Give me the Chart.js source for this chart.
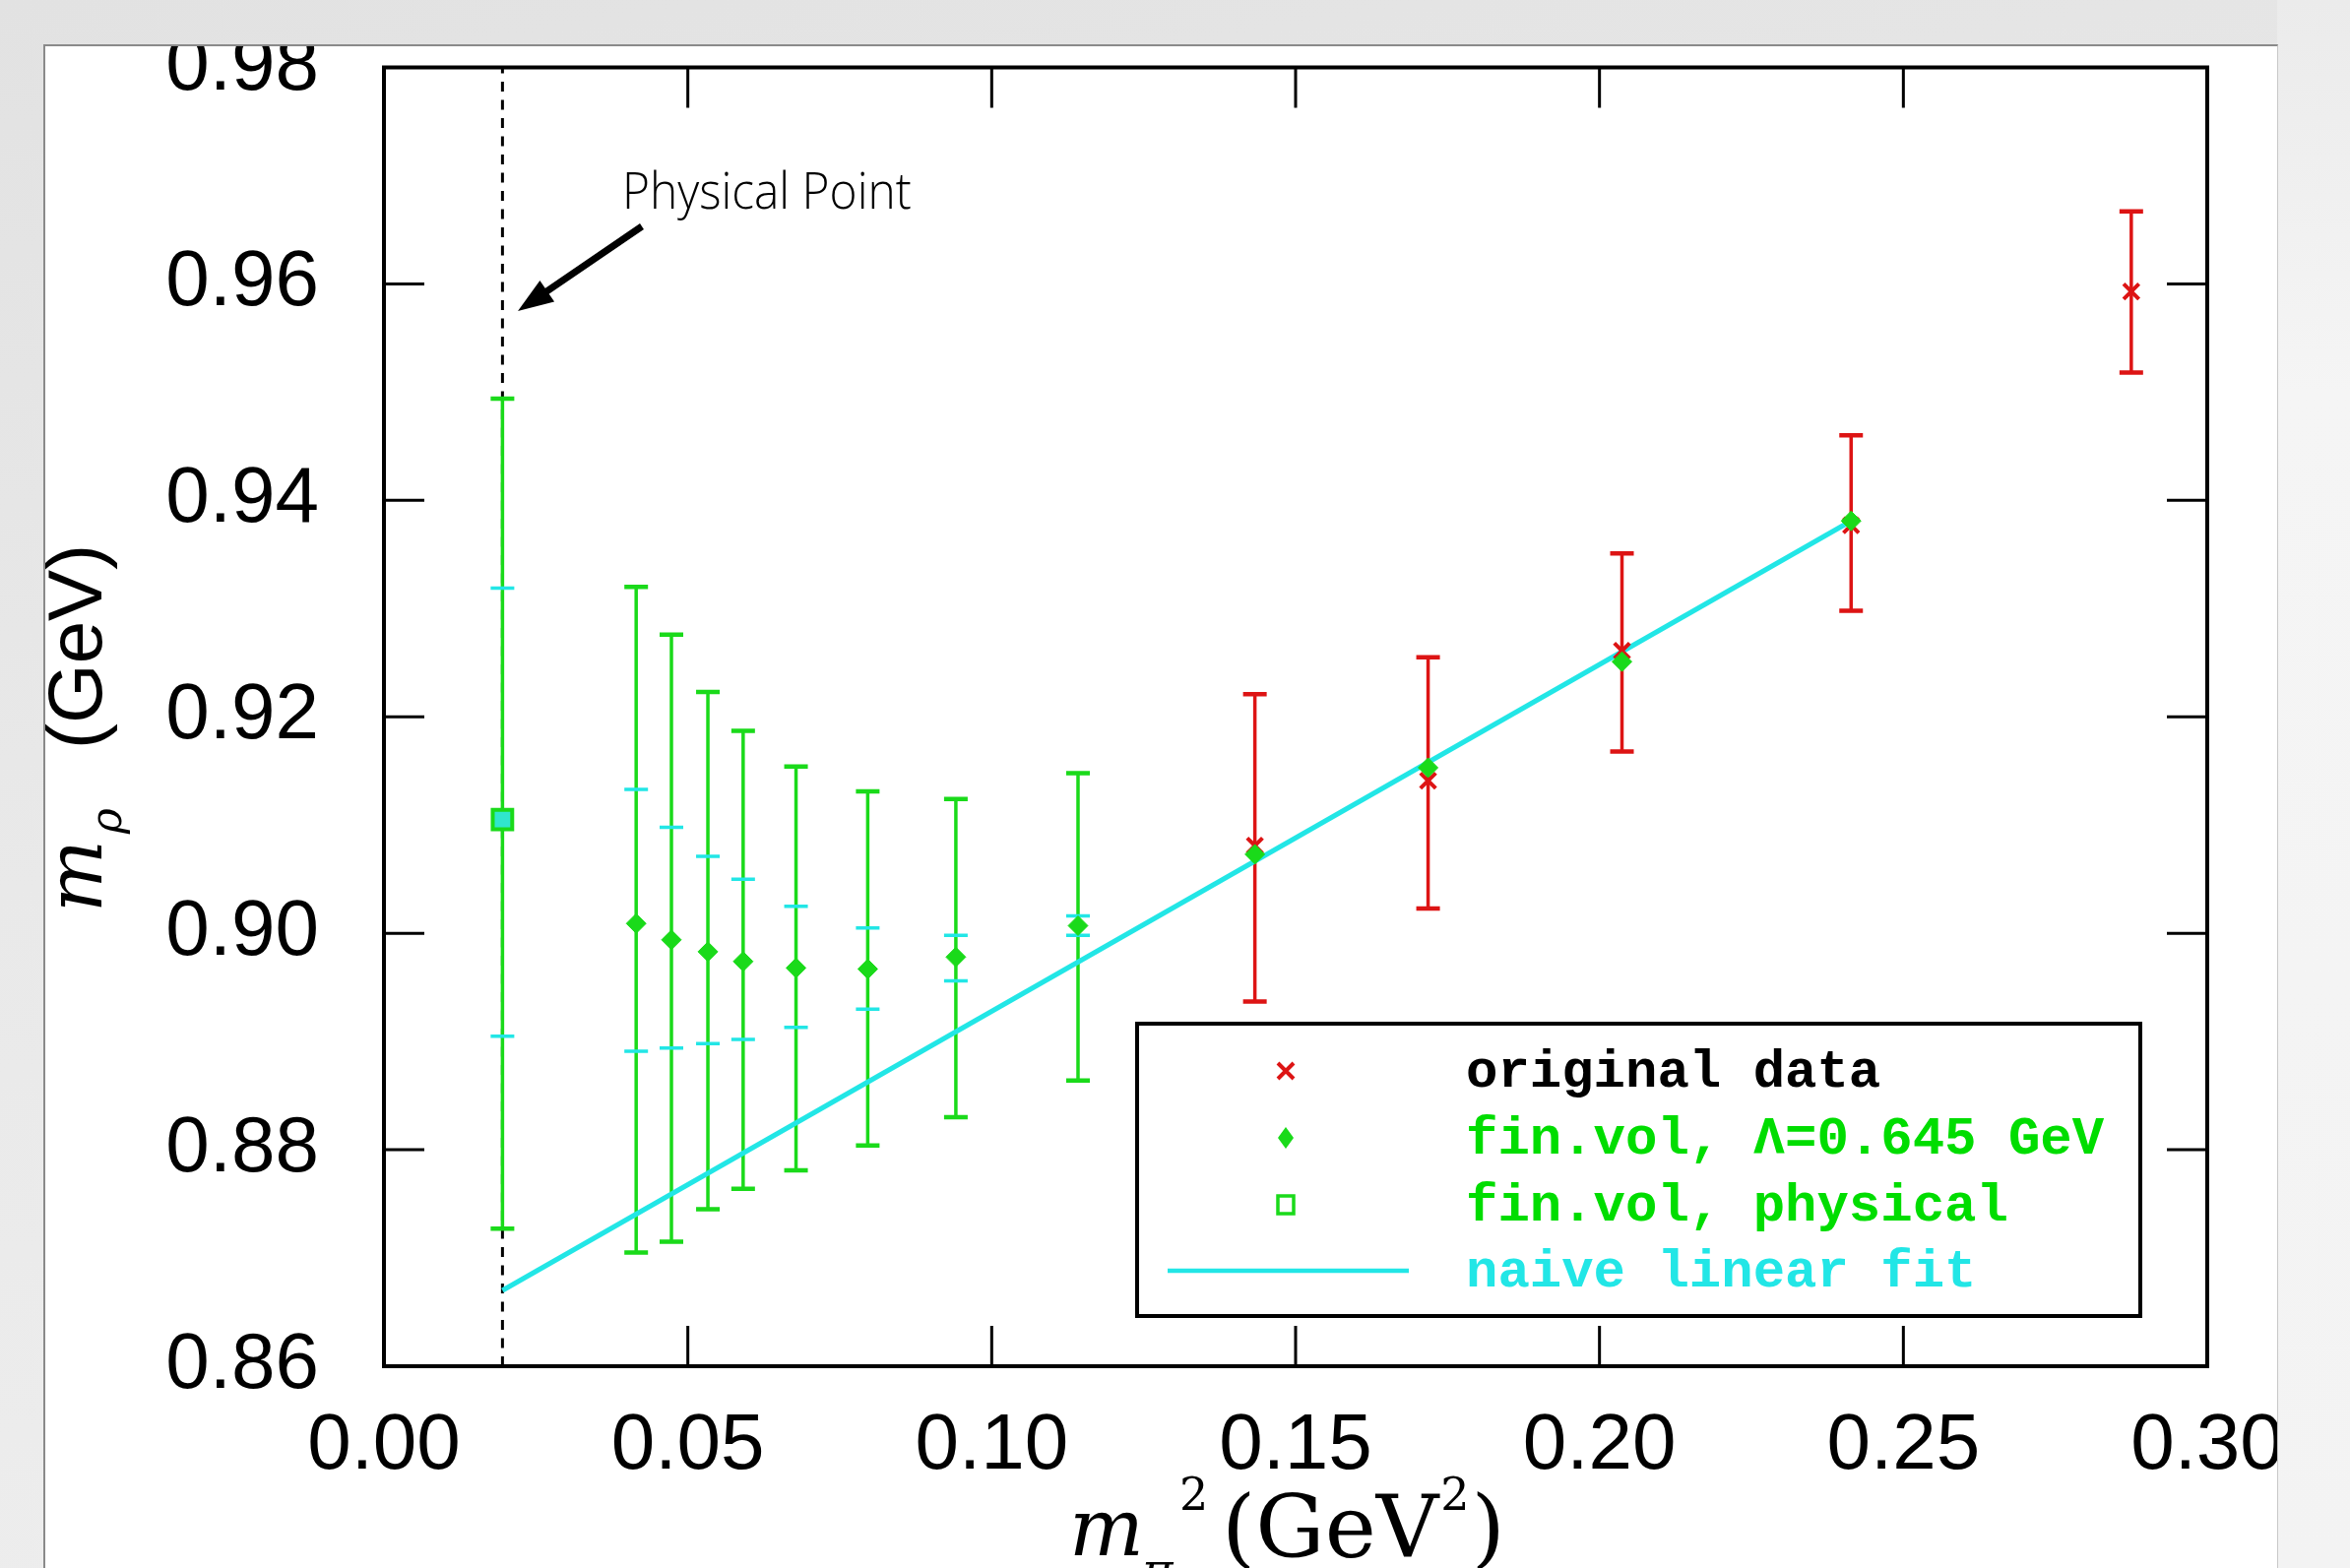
<!DOCTYPE html>
<html><head><meta charset="utf-8">
<script src="https://cdn.jsdelivr.net/npm/chart.js@4.4.1/dist/chart.umd.min.js"></script>
<style>
html,body{margin:0;padding:0;width:2387px;height:1593px;overflow:hidden;}
body{background:linear-gradient(170deg,#e2e2e2 0%,#e9e9e9 45%,#efefef 100%);position:relative;}
#shine{position:absolute;left:2313px;top:0;width:74px;height:1593px;background:linear-gradient(180deg,#ebebeb 0%,#f5f5f5 25%,#f3f3f3 100%);}
#card{position:absolute;left:44px;top:45px;width:2270px;height:1560px;background:#fff;overflow:hidden;box-sizing:border-box;border-top:2px solid #8a8a8a;border-left:2px solid #8a8a8a;border-right:1px solid #c8c8c8;}
#c{position:absolute;left:-46px;top:-47px;}
</style></head>
<body><div id="shine"></div><div id="card"><canvas id="c" width="2387" height="1593"></canvas></div>
<script>
// ---------- data ----------
const X_TICKS = [0.00, 0.05, 0.10, 0.15, 0.20, 0.25, 0.30];
const Y_TICKS = [0.86, 0.88, 0.90, 0.92, 0.94, 0.96, 0.98];

// physical point (fin.vol, physical)
const physX = [0.0195];
const physY = [0.9105];
const physHi = [0.9494];
const physLo = [0.8727];
const physStatHi = [0.9319];
const physStatLo = [0.8905];

// fin.vol, Lambda = 0.645 GeV
const finX = [0.0415, 0.0473, 0.0533, 0.0591, 0.0678, 0.0796, 0.0941, 0.1142, 0.1433, 0.1718, 0.2037, 0.2414];
const finY = [0.9009, 0.8994, 0.8983, 0.8974, 0.8968, 0.8967, 0.8978, 0.9007, 0.9073, 0.9153, 0.9251, 0.9381];
const finHi = [0.9320, 0.9276, 0.9223, 0.9187, 0.9154, 0.9131, 0.9124, 0.9148, null, null, null, null];
const finLo = [0.8705, 0.8715, 0.8745, 0.8764, 0.8781, 0.8804, 0.8830, 0.8864, null, null, null, null];
const finStatHi = [0.9133, 0.9098, 0.9071, 0.9050, 0.9025, 0.9005, 0.8998, 0.9016, null, null, null, null];
const finStatLo = [0.8891, 0.8894, 0.8898, 0.8902, 0.8913, 0.8930, 0.8956, 0.8998, null, null, null, null];

// original data
const origX = [0.1433, 0.1718, 0.2037, 0.2414, 0.2875];
const origY = [0.9081, 0.9141, 0.9261, 0.9377, 0.9593];
const origHi = [0.9221, 0.9255, 0.9351, 0.9460, 0.9667];
const origLo = [0.8937, 0.9023, 0.9168, 0.9298, 0.9518];

// naive linear fit
const fitX = [0.0195, 0.2414];
const fitY = [0.8670, 0.9381];

// physical point vertical marker
const markX = [0.0195, 0.0195];
const markY = [0.86, 0.98];

const LEGEND_LABELS = ['original data', 'fin.vol, \u039B=0.645 GeV', 'fin.vol, physical', 'naive linear fit'];

// ---------- colours ----------
const RED = '#dd1414';
const GREEN = '#1ada1a';
const GREEN_TXT = '#00dd00';
const CYAN = '#22e6e6';

const pts = (X, Y) => X.map((x, i) => ({x, y: Y[i]}));

function drawBars(ctx, xs, ys, X, lo, hi, color, capHalf, lw, capW, withLine) {
  ctx.save();
  ctx.strokeStyle = color;
  ctx.lineCap = 'butt';
  X.forEach((xv, i) => {
    if (lo[i] == null) return;
    const px = xs.getPixelForValue(xv);
    const yl = ys.getPixelForValue(lo[i]);
    const yh = ys.getPixelForValue(hi[i]);
    if (withLine) {
      ctx.lineWidth = lw;
      ctx.beginPath(); ctx.moveTo(px, yl); ctx.lineTo(px, yh); ctx.stroke();
    }
    ctx.lineWidth = capW;
    ctx.beginPath();
    ctx.moveTo(px - capHalf, yl); ctx.lineTo(px + capHalf, yl);
    ctx.moveTo(px - capHalf, yh); ctx.lineTo(px + capHalf, yh);
    ctx.stroke();
  });
  ctx.restore();
}

const errorBarPlugin = {
  id: 'errorBars',
  afterDatasetDraw(chart, args) {
    const ds = chart.data.datasets[args.index];
    if (ds.label !== 'physLine') return;
    const ctx = chart.ctx, xs = chart.scales.x, ys = chart.scales.y;
    drawBars(ctx, xs, ys, physX, physLo, physHi, GREEN, 12, 3.5, 4.5, true);
    drawBars(ctx, xs, ys, finX, finLo, finHi, GREEN, 12, 3.5, 4.5, true);
    drawBars(ctx, xs, ys, physX, physStatLo, physStatHi, CYAN, 12, 3.5, 3.5, false);
    drawBars(ctx, xs, ys, finX, finStatLo, finStatHi, CYAN, 12, 3.5, 3.5, false);
    drawBars(ctx, xs, ys, origX, origLo, origHi, RED, 12, 3.5, 4.5, true);
  }
};

const framePlugin = {
  id: 'frame',
  afterDatasetsDraw(chart) {
    const {ctx, chartArea: a, scales: {x, y}} = chart;
    ctx.save();
    ctx.strokeStyle = '#000';
    ctx.lineWidth = 3;
    const L = 41;
    X_TICKS.forEach(v => {
      if (v <= x.min || v >= x.max) return;
      const px = x.getPixelForValue(v);
      ctx.beginPath();
      ctx.moveTo(px, a.bottom); ctx.lineTo(px, a.bottom - L);
      ctx.moveTo(px, a.top); ctx.lineTo(px, a.top + L);
      ctx.stroke();
    });
    Y_TICKS.forEach(v => {
      if (v <= y.min || v >= y.max) return;
      const py = y.getPixelForValue(v);
      ctx.beginPath();
      ctx.moveTo(a.left, py); ctx.lineTo(a.left + L, py);
      ctx.moveTo(a.right, py); ctx.lineTo(a.right - L, py);
      ctx.stroke();
    });
    ctx.lineWidth = 4;
    ctx.strokeRect(a.left, a.top, a.right - a.left, a.bottom - a.top);
    ctx.restore();
  }
};

const decorPlugin = {
  id: 'decor',
  afterDraw(chart) {
    const ctx = chart.ctx;
    ctx.save();
    ctx.fillStyle = '#000';
    ctx.textAlign = 'left';
    ctx.textBaseline = 'alphabetic';

    // ---- "Physical Point" annotation ----
    ctx.save();
    ctx.translate(632, 212);
    ctx.scale(0.92, 1);
    ctx.font = '300 52px "Open Sans", "DejaVu Sans"';
    ctx.fillText('Physical Point', 0, 0);
    ctx.restore();
    // arrow
    const tx = 526, ty = 316, sx = 652, sy = 230;
    const ang = Math.atan2(ty - sy, tx - sx);
    ctx.strokeStyle = '#000';
    ctx.lineWidth = 7;
    ctx.beginPath(); ctx.moveTo(sx, sy);
    ctx.lineTo(tx - 26 * Math.cos(ang), ty - 26 * Math.sin(ang)); ctx.stroke();
    ctx.beginPath();
    ctx.moveTo(tx, ty);
    ctx.lineTo(tx - 36 * Math.cos(ang) + 13 * Math.sin(ang), ty - 36 * Math.sin(ang) - 13 * Math.cos(ang));
    ctx.lineTo(tx - 36 * Math.cos(ang) - 13 * Math.sin(ang), ty - 36 * Math.sin(ang) + 13 * Math.cos(ang));
    ctx.closePath(); ctx.fill();

    // ---- y axis title: m_rho (GeV) ----
    ctx.save();
    ctx.translate(103, 927);
    ctx.rotate(-Math.PI / 2);
    ctx.font = 'italic 78px "DejaVu Serif"';
    ctx.fillText('m', 0, 0);
    ctx.font = 'italic 44px "DejaVu Serif"';
    ctx.fillText('\u03C1', 80, 20);
    ctx.font = '78px "Liberation Sans"';
    ctx.fillText('(GeV)', 166, 0);
    ctx.restore();

    // ---- x axis title: m_pi^2 (GeV^2) ----
    ctx.font = 'italic 80px "DejaVu Serif"';
    ctx.fillText('m', 1086, 1580);
    ctx.font = 'italic 48px "DejaVu Serif"';
    ctx.fillText('\u03C0', 1160, 1612);
    ctx.font = '46px "DejaVu Serif"';
    ctx.fillText('2', 1198, 1534);
    ctx.font = '88px "DejaVu Serif"';
    ctx.fillText('(GeV', 1241, 1582);
    let w = ctx.measureText('(GeV').width;
    ctx.font = '46px "DejaVu Serif"';
    ctx.fillText('2', 1241 + w + 2, 1534);
    let w2 = ctx.measureText('2').width;
    ctx.font = '88px "DejaVu Serif"';
    ctx.fillText(')', 1241 + w + w2 + 4, 1582);

    // ---- legend ----
    const bx = 1155, by = 1040, bw = 1019, bh = 297;
    ctx.fillStyle = '#fff';
    ctx.fillRect(bx, by, bw, bh);
    ctx.strokeStyle = '#000';
    ctx.lineWidth = 4;
    ctx.strokeRect(bx, by, bw, bh);
    const rows = [1088, 1156, 1224, 1291];
    const sxm = 1306;
    // red cross
    ctx.strokeStyle = RED; ctx.lineWidth = 4;
    ctx.beginPath();
    ctx.moveTo(sxm - 8, rows[0] - 8); ctx.lineTo(sxm + 8, rows[0] + 8);
    ctx.moveTo(sxm + 8, rows[0] - 8); ctx.lineTo(sxm - 8, rows[0] + 8);
    ctx.stroke();
    // green diamond
    ctx.fillStyle = GREEN;
    ctx.beginPath();
    ctx.moveTo(sxm, rows[1] - 11); ctx.lineTo(sxm + 8, rows[1]);
    ctx.lineTo(sxm, rows[1] + 11); ctx.lineTo(sxm - 8, rows[1]);
    ctx.closePath(); ctx.fill();
    // open square
    ctx.strokeStyle = GREEN; ctx.lineWidth = 3.5;
    ctx.strokeRect(sxm - 8, rows[2] - 9, 16, 18);
    // cyan line
    ctx.strokeStyle = CYAN; ctx.lineWidth = 4.5;
    ctx.beginPath(); ctx.moveTo(1186, rows[3]); ctx.lineTo(1431, rows[3]); ctx.stroke();
    // texts
    ctx.font = 'bold 54px "Liberation Mono"';
    ctx.textBaseline = 'middle';
    const colors = ['#000', GREEN_TXT, GREEN_TXT, CYAN];
    LEGEND_LABELS.forEach((t, i) => {
      ctx.fillStyle = colors[i];
      ctx.fillText(t, 1489, rows[i] + 2);
    });
    ctx.restore();
  }
};

Chart.defaults.font.family = '"Liberation Sans", Arial, sans-serif';

new Chart(document.getElementById('c'), {
  type: 'scatter',
  data: {
    datasets: [
      {
        label: 'physLine', data: pts(markX, markY), showLine: true,
        borderColor: '#000', borderWidth: 3, borderDash: [10, 8.5], pointRadius: 0, order: 10
      },
      {
        label: 'naive linear fit', data: pts(fitX, fitY), showLine: true,
        borderColor: CYAN, borderWidth: 5, pointRadius: 0, order: 5
      },
      {
        label: 'original data', data: pts(origX, origY),
        pointStyle: 'crossRot', pointRadius: 11, borderColor: RED, backgroundColor: RED,
        pointBorderWidth: 4, order: 3
      },
      {
        label: 'fin.vol, \u039B=0.645 GeV', data: pts(finX, finY),
        pointStyle: 'rectRot', pointRadius: 10, borderColor: GREEN, backgroundColor: GREEN,
        pointBorderWidth: 1, order: 1
      },
      {
        label: 'fin.vol, physical', data: pts(physX, physY),
        pointStyle: 'rect', pointRadius: 14, borderColor: GREEN, backgroundColor: '#30e6cc',
        pointBorderWidth: 4, order: 0
      }
    ]
  },
  options: {
    responsive: false,
    animation: false,
    devicePixelRatio: 1,
    layout: { padding: { left: 0, top: 68.5, right: 145, bottom: 0 } },
    plugins: { legend: { display: false }, tooltip: { enabled: false } },
    scales: {
      x: {
        type: 'linear', min: 0, max: 0.30,
        grid: { display: false, drawTicks: false },
        border: { display: false },
        afterFit: s => { s.height = 205; s.paddingLeft = 0; s.paddingRight = 0; },
        afterBuildTicks: s => { s.ticks = X_TICKS.map(v => ({ value: v })); },
        ticks: {
          autoSkip: false, maxRotation: 0, padding: 34, color: '#000',
          font: { size: 80 },
          callback: v => Number(v).toFixed(2)
        }
      },
      y: {
        type: 'linear', min: 0.86, max: 0.98,
        grid: { display: false, drawTicks: false },
        border: { display: false },
        afterFit: s => { s.width = 390; s.paddingTop = 0; s.paddingBottom = 0; },
        afterBuildTicks: s => { s.ticks = Y_TICKS.map(v => ({ value: v })); },
        ticks: {
          autoSkip: false, padding: 66, color: '#000',
          font: { size: 80 },
          callback: v => Number(v).toFixed(2)
        }
      }
    }
  },
  plugins: [errorBarPlugin, framePlugin, decorPlugin]
});
</script></body></html>
